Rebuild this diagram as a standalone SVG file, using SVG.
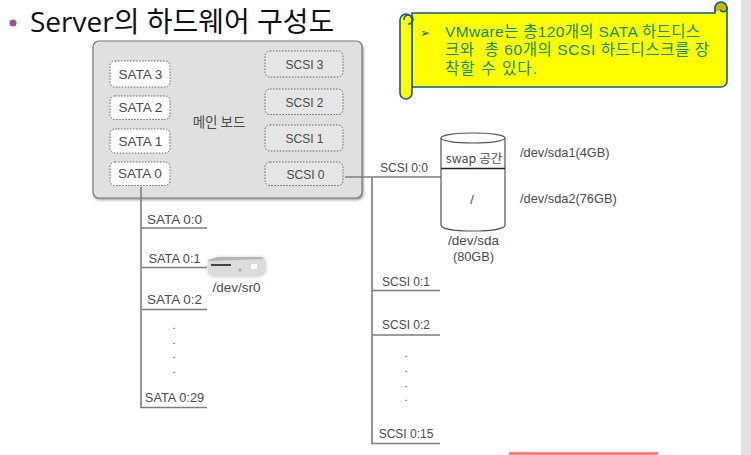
<svg xmlns="http://www.w3.org/2000/svg" width="751" height="455" viewBox="0 0 751 455">
<style>
text{font-family:"Liberation Sans","Noto Sans CJK KR",sans-serif;fill:#4a4a4a;font-size:12.8px;text-anchor:middle}
.k{font-family:"Noto Sans CJK KR","Noto Sans",sans-serif}
.t{font-size:13.5px}
.c{font-size:12px}
.sata{fill:#fff;stroke:#666;stroke-width:1;stroke-dasharray:1.5 1.5}
.scsi{fill:#e6e6e6;stroke:#666;stroke-width:1;stroke-dasharray:1.5 1.5}
.w{fill:none;stroke:#7d7d7d;stroke-width:1.6}
.s{fill:#ffff00;stroke:#0f5a96;stroke-width:1.6}
.n{fill:#0f8a6a;font-size:15.5px;text-anchor:start;font-family:"Liberation Sans","Noto Sans CJK KR",sans-serif}
.d{font-size:11px;fill:#444}
</style>
<defs>
<filter id="sh" x="-5%" y="-5%" width="110%" height="110%"><feDropShadow dx="1" dy="1.5" stdDeviation="1" flood-color="#999"/></filter>
<filter id="ds" x="-20%" y="-30%" width="140%" height="160%"><feDropShadow dx="1" dy="1" stdDeviation="2" flood-color="#bbb"/></filter>
</defs>
<rect width="751" height="455" fill="#fff"/>
<rect x="741" y="0" width="10" height="455" fill="#e2e2e2"/>
<rect x="509" y="452" width="149" height="3" fill="#ff7c80"/>
<g id="title">
<circle cx="13" cy="23" r="3.500" fill="#a64ca6"/>
<text x="30" y="32" class="k" style="font-size:28px;fill:#111;text-anchor:start;font-family:'Open Sans','Noto Sans CJK KR',sans-serif">Server의 하드웨어 구성도</text>
</g>
<g id="note">
<path class="s" d="M412 13H715V9A6 6 0 0 1 727 8V81A6 6 0 0 1 721 87H412Z"/>
<path class="s" d="M400 20A6 6 0 0 1 412 20V93A6 6 0 0 1 400 93Z"/>
<path d="M408 24A4.500 4.500 0 1 0 404 20" fill="none" stroke="#0f5a96" stroke-width="1.500"/>
<path d="M715 12V8A6 6 0 0 1 727 8C727 12 722 13 720 10" fill="#c9b400" stroke="#0f5a96" stroke-width="1.500"/>
<text x="420" y="37" style="font-family:'DejaVu Sans',sans-serif;font-size:12px;fill:#0f5a96;text-anchor:start">➢</text>
<text class="n" xml:space="preserve"><tspan x="445" y="37" textLength="255">VMware는 총120개의 SATA 하드디스</tspan><tspan x="445" y="55" textLength="264">크와  총 60개의 SCSI 하드디스크를 장</tspan><tspan x="445" y="74" textLength="92">착할 수 있다.</tspan></text>
</g>
<g id="board">
<rect x="93" y="41" width="269" height="157" rx="6" fill="#e0e0e1" stroke="#7a7a7a" stroke-width="1.200" filter="url(#sh)"/>
<text x="219" y="127" class="k t">메인 보드</text>
</g>
<g id="sata3"><rect class="sata" x="110" y="61" width="60" height="26" rx="5"/><text class="t" x="140.500" y="79">SATA 3</text></g>
<g id="sata2"><rect class="sata" x="110" y="96" width="60" height="23.500" rx="5"/><text class="t" x="140.500" y="112">SATA 2</text></g>
<g id="sata1"><rect class="sata" x="110" y="129" width="60" height="24" rx="5"/><text class="t" x="140.500" y="146">SATA 1</text></g>
<g id="sata0"><rect class="sata" x="110" y="162" width="60" height="23.500" rx="5"/><text class="t" x="140" y="178">SATA 0</text></g>
<g id="scsi3"><rect class="scsi" x="265" y="51" width="78" height="26" rx="5"/><text class="c" x="304.500" y="69">SCSI 3</text></g>
<g id="scsi2"><rect class="scsi" x="265" y="89" width="78" height="25.500" rx="5"/><text class="c" x="304.500" y="107">SCSI 2</text></g>
<g id="scsi1"><rect class="scsi" x="265" y="125" width="78" height="26" rx="5"/><text class="c" x="304.500" y="143">SCSI 1</text></g>
<g id="scsi0"><rect class="scsi" x="265" y="162" width="78" height="23.500" rx="5"/><text class="c" x="305.500" y="179">SCSI 0</text></g>
<g id="connectors">
<path class="w" d="M141 187V407.500H207M141 228H207M141 267.500H207M141 309.500H207"/>
<path class="w" d="M345 177H441M372 177V443.500H440M372 290.500H440M372 335H440"/>
</g>
<g id="labels">
<text class="t" x="174.500" y="224">SATA 0:0</text>
<text x="174.500" y="263">SATA 0:1</text>
<text class="t" x="174.500" y="304">SATA 0:2</text>
<text x="174.500" y="402">SATA 0:29</text>
<text class="d" x="174" y="329">.</text><text class="d" x="174" y="344">.</text><text class="d" x="174" y="358">.</text><text class="d" x="174" y="373">.</text>
<text class="c" x="404" y="172">SCSI 0:0</text>
<text class="c" x="406" y="286">SCSI 0:1</text>
<text class="c" x="406" y="329">SCSI 0:2</text>
<text class="c" x="406" y="438">SCSI 0:15</text>
<text class="d" x="406" y="357">.</text><text class="d" x="406" y="372">.</text><text class="d" x="406" y="387">.</text><text class="d" x="406" y="401">.</text>
</g>
<g id="drive">
<path d="M208 260L218 257H262L264 260V272L259 275H211L208 273Z" fill="#dcdcdc" filter="url(#ds)"/>
<path d="M208 260L218 257H262L264 259L210 261Z" fill="#b5b5b5"/>
<path d="M211 264H231V266H211Z" fill="#444"/>
<rect x="251" y="264" width="6" height="5" fill="#fff"/>
<circle cx="240" cy="270" r="1.500" fill="#aaa"/>
<text class="t" x="236.500" y="292">/dev/sr0</text>
</g>
<g id="disk">
<path d="M441 138V225C441 229 456 231 473 231S505 229 505 225V138" fill="#fff" stroke="#555" stroke-width="1.200"/>
<ellipse cx="473" cy="138" rx="32" ry="5" fill="#fff" stroke="#555" stroke-width="1.200"/>
<path d="M441 168.500H505" stroke="#222" stroke-width="1.500"/>
<text x="474" y="163" class="k" style="font-size:12.500px">swap 공간</text>
<text x="472" y="204">/</text>
<text style="font-size:13.500px" x="473.500" y="245">/dev/sda</text>
<text x="473.500" y="261">(80GB)</text>
<text x="520" y="157" style="text-anchor:start">/dev/sda1(4GB)</text>
<text x="520" y="203" style="text-anchor:start">/dev/sda2(76GB)</text>
</g>
</svg>
